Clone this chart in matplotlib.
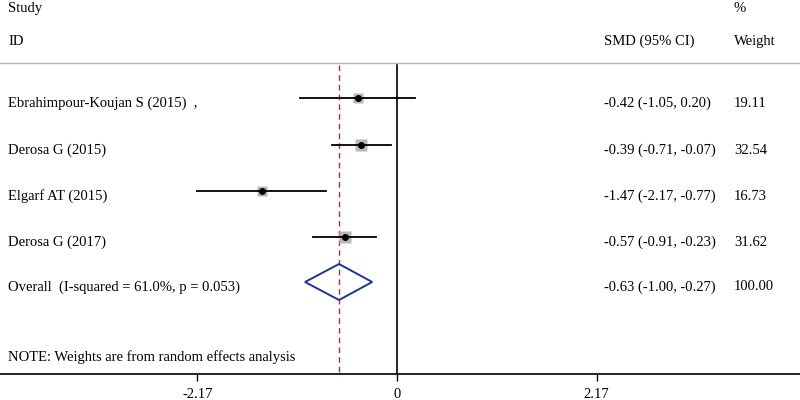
import matplotlib
matplotlib.use("Agg")
import matplotlib.pyplot as plt
from matplotlib.patches import Polygon

studies = ["Ebrahimpour-Koujan S (2015)  ,", "Derosa G (2015)", "Elgarf AT (2015)", "Derosa G (2017)"]
smd = [-0.42, -0.39, -1.47, -0.57]
lo = [-1.05, -0.71, -2.17, -0.91]
hi = [0.20, -0.07, -0.77, -0.23]
weights = [19.11, 32.54, 16.73, 31.62]
overall = (-0.63, -1.00, -0.27)
overall_label = "Overall  (I-squared = 61.0%, p = 0.053)"
tick_vals = [-2.17, 0, 2.17]
tick_labels = ["-2.17", "0", "2.17"]

plt.rcParams['font.family'] = ['Liberation Serif', 'DejaVu Serif']
FS = 10.5

fig = plt.figure(figsize=(8, 4), dpi=100)
ax = fig.add_axes([0, 26/400, 1, 374/400])
ax.set_xlim(-4.315, 4.38)
ax.set_ylim(374, 0)

for s in ['top', 'right', 'left']:
    ax.spines[s].set_visible(False)
ax.spines['bottom'].set_linewidth(1.2)
ax.set_yticks([])
ax.set_xticks(tick_vals)
ax.set_xticklabels(tick_labels, fontsize=FS)
ax.tick_params(axis='x', direction='out', length=5, width=1, pad=5)

# positions in px
row_y = [98, 145, 191, 237]
ov_y = 282
txt_off = 5
x_lab_px = 8
def px2x(px):
    x0, x1 = ax.get_xlim()
    return x0 + (x1 - x0) * px / 800.0

# header
ax.text(px2x(8), 8, "Study", fontsize=FS, va='center', ha='left')
ax.text(px2x(8), 41, "ID", fontsize=FS, va='center', ha='left')
ax.text(px2x(604), 41, "SMD (95% CI)", fontsize=FS, va='center', ha='left')
ax.text(px2x(734), 8, "%", fontsize=FS, va='center', ha='left')
ax.text(px2x(734), 41, "Weight", fontsize=FS, va='center', ha='left')
ax.axhline(63, color='#b4b4b4', lw=1)

# reference lines
ax.plot([0, 0], [65, 374], color='black', lw=1.2)
ax.plot([overall[0], overall[0]], [65, 374], color='#c0282d', lw=1, ls=(0, (4, 3)))

for i, (name, m, l, h, w) in enumerate(zip(studies, smd, lo, hi, weights)):
    y = row_y[i]
    ax.plot([l, h], [y, y], color='black', lw=1.3, zorder=3)
    ax.plot([m], [y], marker='s', ms=w ** 0.5 * 1.6, color='#b8b8b8', mec='none', zorder=2)
    ax.plot([m], [y], marker='o', ms=4, color='black', zorder=4)
    ax.text(px2x(x_lab_px), y + txt_off, name, fontsize=FS, va='center', ha='left')
    ax.text(px2x(604), y + txt_off, f"{m:.2f} ({l:.2f}, {h:.2f})", fontsize=FS, va='center', ha='left')
    ax.text(px2x(734), y + txt_off, f"{w:.2f}", fontsize=FS, va='center', ha='left')

m, l, h = overall
dia = Polygon([[l, ov_y], [m, ov_y - 18], [h, ov_y], [m, ov_y + 18]], closed=True,
              fill=False, edgecolor='#1f3590', lw=1.4, zorder=3)
ax.add_patch(dia)
ax.text(px2x(x_lab_px), ov_y + txt_off, overall_label, fontsize=FS, va='center', ha='left')
ax.text(px2x(604), ov_y + txt_off, f"{m:.2f} ({l:.2f}, {h:.2f})", fontsize=FS, va='center', ha='left')
ax.text(px2x(734), ov_y + txt_off, "100.00", fontsize=FS, va='center', ha='left')

ax.text(px2x(8), 357, "NOTE: Weights are from random effects analysis", fontsize=FS, va='center', ha='left')

fig.savefig("out.png", dpi=100)
